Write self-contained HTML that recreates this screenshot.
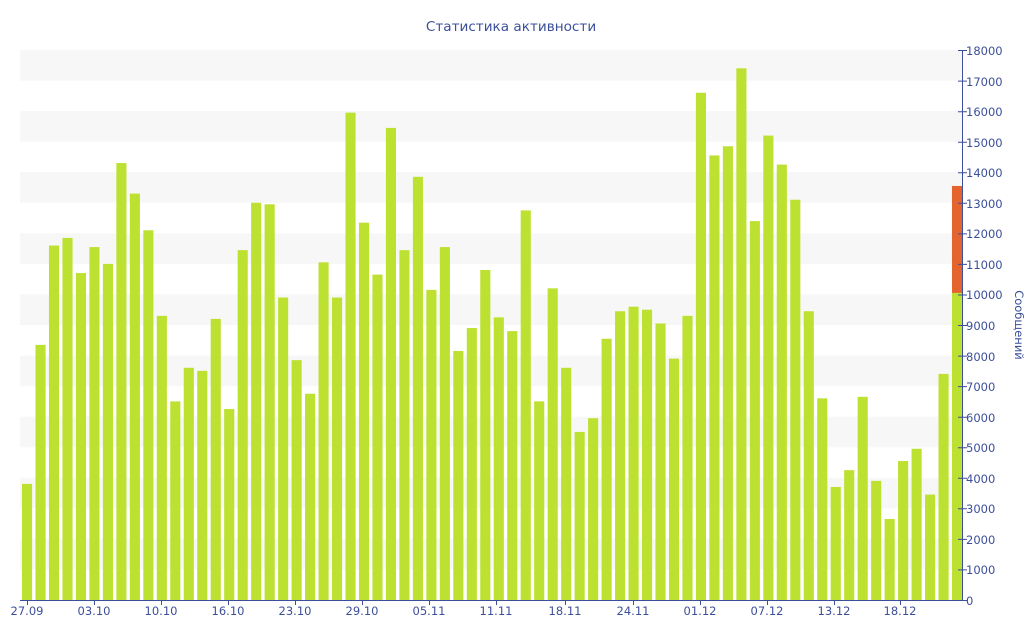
<!DOCTYPE html>
<html><head><meta charset="utf-8"><style>
html,body{margin:0;padding:0;background:#fff;}
svg{display:block;font-family:"DejaVu Sans","Liberation Sans",sans-serif;}
</style></head><body>
<svg width="1024" height="640" viewBox="0 0 1024 640">
<g fill="#f7f7f7">
<rect x="20" y="50" width="942" height="30.56"/>
<rect x="20" y="111.1" width="942" height="30.56"/>
<rect x="20" y="172.2" width="942" height="30.56"/>
<rect x="20" y="233.3" width="942" height="30.56"/>
<rect x="20" y="294.4" width="942" height="30.56"/>
<rect x="20" y="355.6" width="942" height="30.56"/>
<rect x="20" y="416.7" width="942" height="30.56"/>
<rect x="20" y="477.8" width="942" height="30.56"/>
<rect x="20" y="538.9" width="942" height="30.56"/>
</g>
<g transform="translate(22,600) scale(13.478,-0.0305556)" fill="#bde130">
<rect x="0" width="0.75" height="3800"/>
<rect x="1" width="0.75" height="8350"/>
<rect x="2" width="0.75" height="11600"/>
<rect x="3" width="0.75" height="11850"/>
<rect x="4" width="0.75" height="10700"/>
<rect x="5" width="0.75" height="11550"/>
<rect x="6" width="0.75" height="11000"/>
<rect x="7" width="0.75" height="14300"/>
<rect x="8" width="0.75" height="13300"/>
<rect x="9" width="0.75" height="12100"/>
<rect x="10" width="0.75" height="9300"/>
<rect x="11" width="0.75" height="6500"/>
<rect x="12" width="0.75" height="7600"/>
<rect x="13" width="0.75" height="7500"/>
<rect x="14" width="0.75" height="9200"/>
<rect x="15" width="0.75" height="6250"/>
<rect x="16" width="0.75" height="11450"/>
<rect x="17" width="0.75" height="13000"/>
<rect x="18" width="0.75" height="12950"/>
<rect x="19" width="0.75" height="9900"/>
<rect x="20" width="0.75" height="7850"/>
<rect x="21" width="0.75" height="6750"/>
<rect x="22" width="0.75" height="11050"/>
<rect x="23" width="0.75" height="9900"/>
<rect x="24" width="0.75" height="15950"/>
<rect x="25" width="0.75" height="12350"/>
<rect x="26" width="0.75" height="10650"/>
<rect x="27" width="0.75" height="15450"/>
<rect x="28" width="0.75" height="11450"/>
<rect x="29" width="0.75" height="13850"/>
<rect x="30" width="0.75" height="10150"/>
<rect x="31" width="0.75" height="11550"/>
<rect x="32" width="0.75" height="8150"/>
<rect x="33" width="0.75" height="8900"/>
<rect x="34" width="0.75" height="10800"/>
<rect x="35" width="0.75" height="9250"/>
<rect x="36" width="0.75" height="8800"/>
<rect x="37" width="0.75" height="12750"/>
<rect x="38" width="0.75" height="6500"/>
<rect x="39" width="0.75" height="10200"/>
<rect x="40" width="0.75" height="7600"/>
<rect x="41" width="0.75" height="5500"/>
<rect x="42" width="0.75" height="5950"/>
<rect x="43" width="0.75" height="8550"/>
<rect x="44" width="0.75" height="9450"/>
<rect x="45" width="0.75" height="9600"/>
<rect x="46" width="0.75" height="9500"/>
<rect x="47" width="0.75" height="9050"/>
<rect x="48" width="0.75" height="7900"/>
<rect x="49" width="0.75" height="9300"/>
<rect x="50" width="0.75" height="16600"/>
<rect x="51" width="0.75" height="14550"/>
<rect x="52" width="0.75" height="14850"/>
<rect x="53" width="0.75" height="17400"/>
<rect x="54" width="0.75" height="12400"/>
<rect x="55" width="0.75" height="15200"/>
<rect x="56" width="0.75" height="14250"/>
<rect x="57" width="0.75" height="13100"/>
<rect x="58" width="0.75" height="9450"/>
<rect x="59" width="0.75" height="6600"/>
<rect x="60" width="0.75" height="3700"/>
<rect x="61" width="0.75" height="4250"/>
<rect x="62" width="0.75" height="6650"/>
<rect x="63" width="0.75" height="3900"/>
<rect x="64" width="0.75" height="2650"/>
<rect x="65" width="0.75" height="4550"/>
<rect x="66" width="0.75" height="4950"/>
<rect x="67" width="0.75" height="3450"/>
<rect x="68" width="0.75" height="7400"/>
<rect x="69" width="0.75" height="10050"/>
<rect x="69" y="10050" width="0.75" height="3500" fill="#e5632c"/>
</g>
<g stroke="#3c4f9a" stroke-width="1">
<line x1="20" y1="600.5" x2="962" y2="600.5"/>
<line x1="962.5" y1="50" x2="962.5" y2="600"/>
</g>
<g stroke="#3c4f9a" stroke-width="1">
<path d="M27.5 600v5M94.5 600v5M161.5 600v5M228.5 600v5M295.5 600v5M362.5 600v5M429.5 600v5M496.5 600v5M565.5 600v5M633.5 600v5M700.5 600v5M767.5 600v5M834.5 600v5M900.5 600v5"/>
<path d="M958 600.5h9M958 569.9h9M958 539.4h9M958 508.8h9M958 478.3h9M958 447.7h9M958 417.2h9M958 386.6h9M958 356.1h9M958 325.5h9M958 295h9M958 264.4h9M958 233.9h9M958 203.3h9M958 172.8h9M958 142.2h9M958 111.7h9M958 81.1h9M958 50.5h9"/>
</g>
<g fill="#3c4f9a" font-size="11.5" text-anchor="middle">
<text x="27" y="615">27.09</text><text x="94" y="615">03.10</text><text x="161" y="615">10.10</text><text x="228" y="615">16.10</text><text x="295" y="615">23.10</text><text x="362" y="615">29.10</text><text x="429" y="615">05.11</text><text x="496" y="615">11.11</text><text x="565" y="615">18.11</text><text x="633" y="615">24.11</text><text x="700" y="615">01.12</text><text x="767" y="615">07.12</text><text x="834" y="615">13.12</text><text x="900" y="615">18.12</text>
</g>
<g fill="#3c4f9a" font-size="11.5">
<text x="966" y="605">0</text><text x="966" y="574">1000</text><text x="966" y="544">2000</text><text x="966" y="513">3000</text><text x="966" y="483">4000</text><text x="966" y="452">5000</text><text x="966" y="422">6000</text><text x="966" y="391">7000</text><text x="966" y="361">8000</text><text x="966" y="330">9000</text><text x="966" y="299">10000</text><text x="966" y="269">11000</text><text x="966" y="238">12000</text><text x="966" y="208">13000</text><text x="966" y="177">14000</text><text x="966" y="147">15000</text><text x="966" y="116">16000</text><text x="966" y="86">17000</text><text x="966" y="55">18000</text>
</g>
<text x="1015" y="325" fill="#3c4f9a" font-size="11.5" text-anchor="middle" transform="rotate(90 1015 325)">Сообщений</text>
<text x="511" y="31" fill="#3c4f9a" font-size="13.6" text-anchor="middle">Статистика активности</text>
</svg>
</body></html>
